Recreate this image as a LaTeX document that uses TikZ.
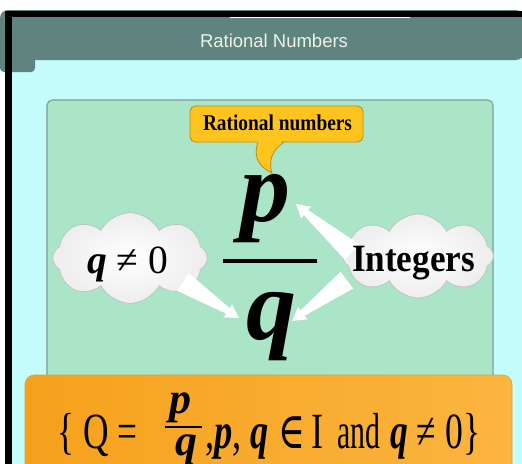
\documentclass[tikz,border=0pt]{standalone}
\usepackage{fontspec}
\usepackage{graphicx}
\setmainfont{Liberation Serif}
\newfontfamily\titlefont{Liberation Sans}
\newfontfamily\symfont{DejaVu Serif}
\usetikzlibrary{calc,shapes.symbols,shadows}
\newsavebox\fitbox
\newcommand\fitw[2]{\sbox\fitbox{#2}\scalebox{\fpeval{(#1)/(\the\wd\fitbox)}}[1]{\usebox\fitbox}}
\definecolor{cyanbg}{HTML}{C3FCFB}
\definecolor{headc}{HTML}{5F847F}
\definecolor{titlec}{HTML}{EEF1EA}
\definecolor{panelc}{HTML}{A9E5C6}
\definecolor{panelb}{HTML}{7F9D91}
\definecolor{callc}{HTML}{FFC51E}
\definecolor{callb}{HTML}{B98A12}
\definecolor{orA}{HTML}{F6A11C}
\definecolor{orB}{HTML}{FFCD78}
\definecolor{orC}{HTML}{FBB540}
\newcommand\fatarrow[3]{%
  \coordinate (fa-n) at ($(#2)!10pt!(#1)$);
  \fill[#3] ($(#1)!8pt!90:(#2)$) -- ($(fa-n)!2.6pt!90:(#2)$) -- ($(fa-n)!6pt!90:(#2)$) -- (#2)
    -- ($(fa-n)!6pt!-90:(#2)$) -- ($(fa-n)!2.6pt!-90:(#2)$) -- ($(#1)!8pt!-90:(#2)$) -- cycle;}
\begin{document}
\begin{tikzpicture}[x=0.75pt,y=-0.75pt,
  txt/.style={inner sep=0pt, anchor=base, text=black},
  cloudsty/.style={cloud, cloud puffs=8, cloud puff arc=125, cloud ignores aspect,
    inner sep=0pt, draw=gray!50, line width=0.5pt, shading=radial, inner color=white, outer color=gray!14},
  ashadow/.style={black, opacity=0.2, shift={(1.5,1.8)}},
  afill/.style={white}]
\useasboundingbox (0,0) rectangle (522,464);
\fill[white] (0,0) rectangle (522,464);
\fill[cyanbg] (12,17) rectangle (522,464);
% header
\fill[headc, rounded corners=6pt] (0,10) rectangle (524,60);
\fill[headc, rounded corners=3pt] (0,40) rectangle (35,72);
\draw[white, line width=0.8pt] (230,17.8) -- (410,17.8);
\fill[black] (5,11) rectangle (522,17);
\fill[black] (5,11) rectangle (12,464);
\node[txt, font=\titlefont\fontsize{14}{15}\selectfont, text=titlec] (title) at (274,47) {\fitw{111pt}{Rational Numbers}};
% panel
\draw[fill=panelc, draw=panelb, line width=0.8pt, rounded corners=4pt] (47,100) rectangle (493,420);
% callout
\node[draw=callb, fill=callc, line width=0.6pt, rounded corners=4pt, minimum width=129.75pt, minimum height=27pt, inner sep=0pt] (callbox) at (276.5,124) {};
\fill[callc] (258,139) .. controls (252,160) and (262,168) .. (272,173) .. controls (268,162) and (272,150) .. (284,139) -- cycle;
\draw[callb, line width=0.6pt] (258,142) .. controls (252,160) and (262,168) .. (272,173) .. controls (268,162) and (272,150) .. (284,142);
\node[txt, font=\fontsize{17}{18}\selectfont\bfseries] (calltext) at (277.5,130) {\fitw{111.75pt}{Rational numbers}};
% arrows endpoints
\coordinate (la0) at (183,282); \coordinate (la1) at (239,318);
\coordinate (ra0) at (347,280); \coordinate (ra1) at (292,321);
\coordinate (ua0) at (352,252); \coordinate (ua1) at (296,204);
\fatarrow{la0}{la1}{ashadow}
\fatarrow{ra0}{ra1}{ashadow}
\fatarrow{ua0}{ua1}{ashadow}
% clouds
\node[cloudsty, minimum width=116pt, minimum height=68pt] (lc) at (130,258) {};
\node[cloudsty, minimum width=113pt, minimum height=63pt] (rc) at (418,256) {};
\fatarrow{la0}{la1}{afill}
\fatarrow{ra0}{ra1}{afill}
\fatarrow{ua0}{ua1}{afill}
\node[txt, font=\fontsize{30}{31}\selectfont] (qne) at (127.5,273) {\fitw{60.75pt}{\textbf{\textit{q}} ≠ 0}};
\node[txt, font=\fontsize{29}{30}\selectfont\bfseries] (intg) at (413.5,271) {\fitw{92.25pt}{Integers}};
% big fraction
\node[txt, font=\fontsize{75}{76}\selectfont\bfseries\itshape] (pbig) at (265,221) {p};
\node[txt, font=\fontsize{75}{76}\selectfont\bfseries\itshape] (qbig) at (271,339) {q};
\draw[black, line width=3.4pt] (223,261) -- (317,261);
% orange formula box
\shade[left color=orA, middle color=orB, right color=orC, rounded corners=7pt] (25,375) rectangle (512,480);
\draw[orA!80!brown, line width=0.4pt, rounded corners=7pt] (25,375) rectangle (512,480);
\node[txt, anchor=base west, font=\fontsize{38}{39}\selectfont] (f1) at (57,448) {\fitw{60pt}{\{ Q =}};
\node[txt, font=\fontsize{33}{34}\selectfont\bfseries\itshape] (fp) at (180,413) {p};
\draw[black, line width=1.6pt] (165,427) -- (202,427);
\node[txt, font=\fontsize{33}{34}\selectfont\bfseries\itshape] (fq) at (186,455) {q};
\node[txt, anchor=base west, font=\fontsize{38}{39}\selectfont] (f2) at (205,448) {\fitw{88.5pt}{,\textbf{\textit{p}}, \textbf{\textit{q}} {\symfont ∈}\,I}};
\node[txt, anchor=base west, font=\fontsize{38}{39}\selectfont] (f3) at (337,448) {\fitw{32.25pt}{and}};
\node[txt, anchor=base west, font=\fontsize{38}{39}\selectfont] (f4) at (390,448) {\fitw{67.5pt}{\textbf{\textit{q}} ≠ 0\}}};
\end{tikzpicture}
\end{document}
